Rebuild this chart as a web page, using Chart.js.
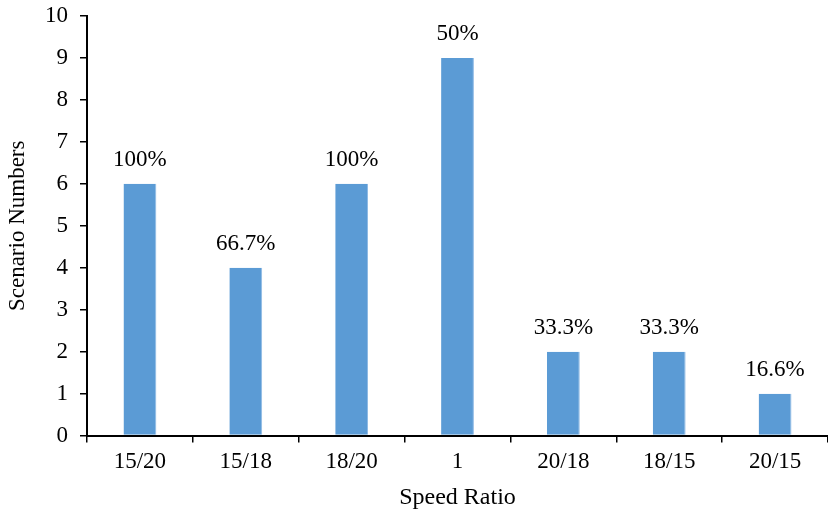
<!DOCTYPE html>
<html>
<head>
<meta charset="utf-8">
<script src="https://cdn.jsdelivr.net/npm/chart.js@4/dist/chart.umd.min.js"></script>
<style>
  html, body { margin: 0; padding: 0; background: #fff; }
  #wrap { width: 828px; height: 512px; }
</style>
</head>
<body>
<div id="wrap"><canvas id="c" width="828" height="512"></canvas></div>
<script>
// Speed ratios and the number of scenarios for each
const categories = ['15/20', '15/18', '18/20', '1', '20/18', '18/15', '20/15'];
const scenarioCounts = [6, 4, 6, 9, 2, 2, 1];
const shareLabels = ['100%', '66.7%', '100%', '50%', '33.3%', '33.3%', '16.6%'];
const yTicks = [0, 1, 2, 3, 4, 5, 6, 7, 8, 9, 10];

const serif = '"Liberation Serif", "Times New Roman", serif';
const FONT_SIZE = 23;

// Writes the share label above each bar
const barLabels = {
  id: 'barLabels',
  afterDatasetsDraw(chart) {
    const ctx = chart.ctx;
    const meta = chart.getDatasetMeta(0);
    ctx.save();
    ctx.font = FONT_SIZE + 'px ' + serif;
    ctx.fillStyle = '#000';
    ctx.textAlign = 'center';
    ctx.textBaseline = 'alphabetic';
    meta.data.forEach((bar, i) => {
      ctx.fillText(shareLabels[i], bar.x, bar.y - 18);
    });
    ctx.restore();
  }
};

new Chart(document.getElementById('c'), {
  type: 'bar',
  data: {
    labels: categories,
    datasets: [{
      data: scenarioCounts,
      backgroundColor: '#5B9BD5',
      borderColor: '#8DB9E4',
      borderWidth: { right: 1 },
      categoryPercentage: 1,
      barPercentage: 0.31
    }]
  },
  options: {
    responsive: false,
    animation: false,
    layout: { padding: { top: 16, right: 0, bottom: 0, left: 4 } },
    plugins: {
      legend: { display: false },
      tooltip: { enabled: false }
    },
    scales: {
      x: {
        grid: {
          offset: true,
          drawOnChartArea: false,
          drawTicks: true,
          tickLength: 7,
          color: '#000',
          lineWidth: 1.5
        },
        border: { color: '#000', width: 2 },
        ticks: {
          color: '#000',
          font: { family: serif, size: FONT_SIZE },
          padding: 6,
          maxRotation: 0
        },
        title: {
          display: true,
          text: 'Speed Ratio',
          color: '#000',
          font: { family: serif, size: 24 },
          padding: { top: 1, bottom: 0 }
        }
      },
      y: {
        min: 0,
        max: 10,
        afterBuildTicks(scale) {
          scale.ticks = yTicks.map(v => ({ value: v }));
        },
        afterFit(scale) {
          scale.width = 83;
          scale.paddingTop = 0;
          scale.paddingBottom = 0;
        },
        grid: {
          drawOnChartArea: false,
          drawTicks: true,
          tickLength: 7,
          color: '#000',
          lineWidth: 1.5
        },
        border: { color: '#000', width: 2 },
        ticks: {
          color: '#000',
          font: { family: serif, size: FONT_SIZE },
          padding: 12
        },
        title: {
          display: true,
          text: 'Scenario Numbers',
          color: '#000',
          font: { family: serif, size: FONT_SIZE },
          padding: { top: 0, bottom: 4 }
        }
      }
    }
  },
  plugins: [barLabels]
});
</script>
</body>
</html>
